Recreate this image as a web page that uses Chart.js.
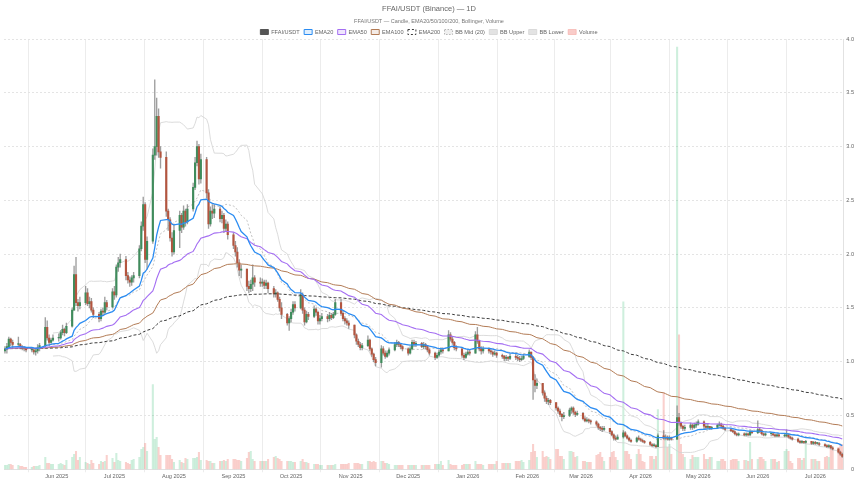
<!DOCTYPE html>
<html><head><meta charset="utf-8">
<script src="https://cdn.jsdelivr.net/npm/chart.js@4.4.1/dist/chart.umd.min.js"></script>
<style>html,body{margin:0;padding:0;background:#fff;}canvas{display:block;}</style>
</head><body>
<canvas id="c" width="860" height="484"></canvas>
<script>
// ---- DATA: FFAI/USDT daily candles, trading days (Mon–Fri) from 2025-05-05 to 2026-07-15 ----
const firstDay = '2025-05-05';
const lastDay = '2026-07-15';
const firstOpen = 1.10;
const closes = [
1.12,1.14,1.21,1.18,1.16, 1.16,1.14,1.13,1.12,1.11, 1.11,1.09,1.10,1.13,1.15, 1.32,1.22,1.18,1.20,1.22,
1.22,1.27,1.30,1.27,1.33, 1.48,1.81,1.55,1.52,1.55, 1.64,1.54,1.56,1.48,1.44, 1.40,1.47,1.46,1.55,1.51,
1.65,1.62,1.88,1.92,1.95, 1.80,1.76,1.74,1.78,1.80, 2.05,2.26,2.46,1.95,2.12, 2.92,3.00,3.28,2.95,2.90,
2.40,2.32,2.15,2.02,2.22, 2.36,2.25,2.40,2.30,2.42, 2.62,2.85,3.00,2.70,2.88, 2.57,2.28,2.40,2.38,2.42,
2.33,2.36,2.24,2.28,2.18, 2.08,2.02,1.92,1.85,1.86, 1.70,1.68,1.72,1.78,1.74, 1.73,1.74,1.71,1.73,1.68,
1.63,1.64,1.58,1.50,1.44, 1.36,1.40,1.46,1.53,1.50, 1.62,1.48,1.37,1.44,1.42, 1.49,1.46,1.38,1.40,1.42,
1.40,1.43,1.41,1.44,1.55, 1.45,1.40,1.38,1.36,1.34, 1.25,1.19,1.16,1.13,1.15, 1.20,1.12,1.07,1.02,0.99,
1.12,1.08,1.05,1.08,1.11, 1.16,1.18,1.16,1.14,1.12, 1.08,1.12,1.18,1.16,1.17, 1.14,1.16,1.14,1.11,1.08,
1.04,1.06,1.09,1.11,1.10, 1.25,1.21,1.18,1.13,1.12, 1.06,1.04,1.07,1.09,1.08, 1.25,1.19,1.12,1.10,1.12,
1.10,1.09,1.07,1.08,1.06, 1.05,1.03,1.04,1.03,1.05, 1.04,1.03,1.02,1.03,1.05, 1.09,1.04,0.83,0.78,0.80,
0.71,0.66,0.63,0.64,0.62, 0.57,0.54,0.51,0.49,0.50, 0.55,0.57,0.53,0.51,0.52, 0.47,0.45,0.46,0.45,0.44,
0.42,0.39,0.38,0.37,0.38, 0.35,0.32,0.29,0.28,0.30, 0.34,0.31,0.29,0.27,0.26, 0.29,0.28,0.27,0.26,0.25,
0.23,0.22,0.22,0.21,0.31, 0.29,0.30,0.28,0.29,0.28, 0.48,0.43,0.40,0.38,0.39, 0.41,0.39,0.41,0.42,0.44,
0.40,0.39,0.40,0.38,0.39, 0.41,0.42,0.40,0.38,0.37, 0.36,0.35,0.33,0.32,0.33, 0.32,0.33,0.32,0.35,0.34,
0.37,0.36,0.33,0.32,0.33, 0.33,0.32,0.31,0.32,0.31, 0.31,0.32,0.30,0.29,0.28, 0.26,0.25,0.26,0.25,0.26,
0.24,0.25,0.24,0.24,0.23, 0.22,0.21,0.22,0.20,0.19, 0.16,0.14,0.12
];
const highs = [
1.14,1.17,1.23,1.22,1.20, 1.23,1.17,1.15,1.14,1.13, 1.12,1.12,1.12,1.16,1.17, 1.41,1.38,1.25,1.22,1.25,
1.26,1.29,1.34,1.31,1.36, 1.50,1.89,1.97,1.58,1.60, 1.70,1.68,1.60,1.59,1.50, 1.46,1.49,1.50,1.60,1.57,
1.68,1.70,1.90,1.97,2.00, 1.98,1.83,1.79,1.80,1.83, 2.08,2.30,2.53,2.48,2.16, 2.98,3.62,3.45,3.35,3.00,
2.95,2.42,2.34,2.20,2.28, 2.40,2.38,2.45,2.42,2.46, 2.66,2.90,3.05,3.02,2.93, 2.90,2.60,2.44,2.46,2.46,
2.44,2.40,2.38,2.32,2.30, 2.20,2.12,2.06,1.95,1.90, 1.84,1.75,1.76,1.90,1.80, 1.78,1.77,1.76,1.76,1.74,
1.70,1.67,1.65,1.60,1.55, 1.45,1.42,1.49,1.56,1.56, 1.67,1.64,1.50,1.47,1.46, 1.52,1.50,1.47,1.43,1.45,
1.44,1.46,1.45,1.46,1.58, 1.58,1.47,1.42,1.40,1.38, 1.32,1.26,1.21,1.18,1.17, 1.24,1.21,1.13,1.08,1.04,
1.15,1.14,1.10,1.10,1.13, 1.18,1.20,1.19,1.17,1.15, 1.13,1.14,1.20,1.20,1.19, 1.18,1.18,1.17,1.15,1.12,
1.09,1.08,1.11,1.13,1.13, 1.29,1.27,1.23,1.19,1.15, 1.12,1.08,1.09,1.11,1.11, 1.28,1.32,1.20,1.14,1.14,
1.13,1.12,1.10,1.10,1.09, 1.07,1.06,1.06,1.05,1.07, 1.08,1.06,1.05,1.05,1.07, 1.11,1.09,1.05,0.88,0.84,
0.80,0.73,0.68,0.66,0.65, 0.62,0.58,0.56,0.52,0.53, 0.57,0.58,0.58,0.54,0.54, 0.53,0.49,0.48,0.47,0.46,
0.45,0.43,0.40,0.40,0.40, 0.38,0.36,0.33,0.31,0.32, 0.36,0.35,0.32,0.30,0.28, 0.30,0.31,0.29,0.28,0.27,
0.26,0.24,0.24,0.23,0.33, 0.36,0.32,0.31,0.31,0.30, 0.59,0.52,0.44,0.41,0.41, 0.43,0.42,0.43,0.44,0.46,
0.45,0.42,0.42,0.40,0.40, 0.42,0.44,0.43,0.41,0.39, 0.38,0.37,0.36,0.34,0.34, 0.34,0.34,0.34,0.36,0.36,
0.45,0.39,0.37,0.34,0.34, 0.34,0.34,0.33,0.33,0.33, 0.33,0.37,0.33,0.31,0.30, 0.29,0.27,0.27,0.26,0.27,
0.26,0.26,0.26,0.25,0.25, 0.24,0.23,0.23,0.22,0.21, 0.19,0.17,0.15
];
const lows = [
1.08,1.08,1.12,1.15,1.13, 1.15,1.12,1.11,1.10,1.09, 1.09,1.07,1.06,1.08,1.10, 1.14,1.20,1.15,1.17,1.19,
1.19,1.21,1.25,1.24,1.26, 1.32,1.56,1.52,1.47,1.49, 1.53,1.52,1.50,1.46,1.41, 1.37,1.38,1.43,1.45,1.48,
1.50,1.58,1.60,1.84,1.88, 1.76,1.73,1.70,1.71,1.74, 1.78,2.03,2.22,1.92,1.86, 2.10,2.88,2.92,2.90,2.80,
2.35,2.22,2.12,1.98,2.00, 2.06,2.20,2.23,2.26,2.28, 2.40,2.60,2.82,2.65,2.66, 2.52,2.24,2.26,2.33,2.34,
2.30,2.29,2.20,2.21,2.14, 2.05,1.98,1.88,1.80,1.78, 1.66,1.64,1.65,1.66,1.70, 1.70,1.70,1.68,1.68,1.64,
1.60,1.60,1.56,1.47,1.40, 1.34,1.29,1.37,1.44,1.47, 1.49,1.45,1.34,1.36,1.39, 1.41,1.43,1.35,1.35,1.38,
1.37,1.38,1.39,1.40,1.43, 1.43,1.38,1.35,1.34,1.31, 1.22,1.16,1.14,1.11,1.11, 1.14,1.10,1.05,1.00,0.96,
0.95,1.06,1.03,1.04,1.06, 1.10,1.14,1.14,1.12,1.10, 1.06,1.07,1.11,1.14,1.14, 1.13,1.12,1.12,1.09,1.06,
1.02,1.03,1.05,1.07,1.08, 1.10,1.19,1.16,1.11,1.10, 1.04,1.02,1.03,1.06,1.06, 1.08,1.17,1.10,1.07,1.08,
1.08,1.07,1.05,1.06,1.04, 1.03,1.01,1.01,1.01,1.02, 1.02,1.01,1.00,1.01,1.02, 1.04,1.02,0.65,0.72,0.75,
0.69,0.63,0.61,0.60,0.60, 0.55,0.52,0.49,0.45,0.47, 0.49,0.52,0.51,0.49,0.50, 0.46,0.44,0.44,0.43,0.42,
0.40,0.37,0.36,0.35,0.36, 0.33,0.31,0.27,0.27,0.28, 0.29,0.30,0.28,0.26,0.25, 0.25,0.27,0.26,0.25,0.24,
0.22,0.21,0.21,0.20,0.21, 0.28,0.28,0.27,0.27,0.27, 0.28,0.41,0.38,0.36,0.36, 0.37,0.37,0.38,0.39,0.41,
0.37,0.37,0.38,0.37,0.37, 0.38,0.40,0.38,0.37,0.36, 0.35,0.34,0.32,0.31,0.31, 0.31,0.31,0.31,0.31,0.33,
0.33,0.34,0.32,0.31,0.31, 0.31,0.31,0.30,0.30,0.30, 0.30,0.30,0.29,0.28,0.27, 0.25,0.24,0.24,0.24,0.24,
0.23,0.23,0.23,0.23,0.22, 0.21,0.20,0.20,0.19,0.18, 0.15,0.13,0.11
];
// volume, in 100k FFAI
const volumes = [
4,4,5,5,4, 4,3,3,2,2, 2,3,3,3,4, 12,6,6,5,5,
5,6,5,4,9, 12,15,18,9,12, 7,6,5,9,6, 5,8,7,8,14,
11,7,16,9,8, 7,6,5,9,10, 12,20,22,26,18, 85,30,32,22,14,
14,14,14,10,7, 9,7,6,11,10, 11,11,12,17,9, 9,8,8,6,6,
8,8,9,8,10, 10,10,9,9,8, 11,17,18,10,8, 8,8,8,8,10,
12,13,11,10,8, 8,8,8,7,7, 8,10,7,7,6, 5,5,5,4,4,
4,4,4,4,5, 5,5,5,5,6, 6,6,6,5,5, 8,8,7,8,7,
8,8,6,6,5, 4,4,4,4,4, 4,4,4,4,4, 4,4,4,4,4,
5,5,5,8,4, 9,5,4,4,4, 4,5,5,5,5, 8,5,5,5,4,
5,5,5,5,8, 6,6,6,6,6, 8,8,8,9,7, 9,17,25,18,12,
18,12,13,12,10, 20,20,13,13,10, 18,18,17,12,13, 8,8,7,7,7,
14,15,17,12,8, 12,17,18,12,9, 168,18,18,15,10, 15,20,15,8,7,
13,13,10,13,60, 77,30,22,25,15, 424,135,25,15,12, 10,14,12,12,12,
15,10,10,12,12, 8,8,10,10,8, 9,10,10,10,8, 9,9,8,27,10,
10,12,12,10,8, 10,10,10,7,8, 18,20,18,8,6, 11,11,9,11,25,
10,10,10,8,8, 12,13,12,22,20, 22,25,25
];
const tickLabels = ['Jun 2025','Jul 2025','Aug 2025','Sep 2025','Oct 2025','Nov 2025','Dec 2025','Jan 2026','Feb 2026','Mar 2026','Apr 2026','May 2026','Jun 2026','Jul 2026'];
const tickDates  = ['2025-06-01','2025-07-01','2025-08-01','2025-09-01','2025-10-01','2025-11-01','2025-12-01','2026-01-01','2026-02-01','2026-03-01','2026-04-01','2026-05-01','2026-06-01','2026-07-01'];

// ---- calendar axis (every day), candles on weekdays ----
const DAY = 86400000;
const t0 = Date.parse(firstDay + 'T00:00:00Z'), t1 = Date.parse(lastDay + 'T00:00:00Z');
const calDates = [], tradeIdx = [];
for (let t = t0, i = 0; t <= t1; t += DAY, i++) {
  calDates.push(new Date(t).toISOString().slice(0, 10));
  const wd = new Date(t).getUTCDay();
  if (wd !== 0 && wd !== 6) tradeIdx.push(i);
}
const N = closes.length;
if (tradeIdx.length !== N || highs.length !== N || lows.length !== N || volumes.length !== N)
  console.error('length mismatch', tradeIdx.length, N, highs.length, lows.length, volumes.length);
const spread = (arr) => { const out = new Array(calDates.length).fill(null); tradeIdx.forEach((ci, k) => { if (k < arr.length) out[ci] = arr[k]; }); return out; };

const opens = closes.map((c, i) => i === 0 ? firstOpen : closes[i - 1]);
const up = closes.map((c, i) => c >= opens[i]);

function ema(src, n) { const k = 2 / (n + 1); const out = []; let e = src[0]; for (let i = 0; i < src.length; i++) { e = i === 0 ? src[0] : src[i] * k + e * (1 - k); out.push(e); } return out; }
function boll(src, n, m) {
  const mid = [], upp = [], low = [];
  for (let i = 0; i < src.length; i++) {
    if (i < n - 1) { mid.push(null); upp.push(null); low.push(null); continue; }
    let s = 0; for (let j = i - n + 1; j <= i; j++) s += src[j];
    const avg = s / n; let v = 0; for (let j = i - n + 1; j <= i; j++) v += (src[j] - avg) ** 2;
    const sd = Math.sqrt(v / n);
    mid.push(avg); upp.push(avg + m * sd); low.push(avg - m * sd);
  }
  return { mid, upp, low };
}
const bb = boll(closes, 20, 2);

const tickIdx = tickDates.map(d => calDates.indexOf(d));
const labelAt = {}; tickIdx.forEach((v, i) => labelAt[v] = tickLabels[i]);

// ---- styles ----
const C = {
  up: '#3f8c5c', down: '#b3553f', wick: 'rgba(125,125,125,0.75)',
  volUp: 'rgba(60,190,120,0.25)', volDown: 'rgba(240,100,90,0.3)',
  e20: '#2b8cf2', e50: '#a46ef2', e100: '#b27b55', e200: '#3a3a3a',
  bbMid: '#a8a8a8', bbBand: '#d2d2d2'
};
Chart.defaults.font.family = "'Liberation Sans', Arial, Helvetica, sans-serif";
Chart.defaults.color = '#666';

const legendItems = [
  { text: 'FFAI/USDT', fill: '#555', stroke: '#555' },
  { text: 'EMA20', fill: 'rgba(43,140,242,0.15)', stroke: C.e20 },
  { text: 'EMA50', fill: 'rgba(164,110,242,0.18)', stroke: C.e50 },
  { text: 'EMA100', fill: 'rgba(178,123,85,0.15)', stroke: C.e100 },
  { text: 'EMA200', fill: 'rgba(255,255,255,0)', stroke: C.e200, dash: [2, 2] },
  { text: 'BB Mid (20)', fill: 'rgba(210,210,210,0.35)', stroke: '#b5b5b5', dash: [1.5, 1.5] },
  { text: 'BB Upper', fill: '#e3e3e3', stroke: '#dadada' },
  { text: 'BB Lower', fill: '#e3e3e3', stroke: '#dadada' },
  { text: 'Volume', fill: 'rgba(245,170,165,0.6)', stroke: 'rgba(245,170,165,0.6)' }
];

const legendHeight = {
  id: 'legendHeight',
  beforeLayout(chart) {
    const lg = chart.legend;
    if (lg && !lg.__patched) { const f = lg.fit.bind(lg); lg.fit = function () { f(); this.height = 14.2; }; lg.__patched = true; }
  }
};

const line = (label, data, color, width, dash, order) => ({
  type: 'line', label, data: spread(data), borderColor: color, borderWidth: width, borderDash: dash || [],
  pointRadius: 0, pointHoverRadius: 0, tension: 0, fill: false, spanGaps: true, yAxisID: 'y', order
});

new Chart(document.getElementById('c'), {
  type: 'bar',
  data: {
    labels: calDates,
    datasets: [
      line('EMA20', ema(closes, 20), C.e20, 1.3, null, 0),
      line('EMA50', ema(closes, 50), C.e50, 1.1, null, 0),
      line('EMA100', ema(closes, 100), C.e100, 1.0, null, 0),
      line('EMA200', ema(closes, 200), C.e200, 1.0, [3, 2], 0),
      line('BB Mid (20)', bb.mid, C.bbMid, 0.7, [2, 2], 3),
      line('BB Upper', bb.upp, C.bbBand, 0.8, null, 3),
      line('BB Lower', bb.low, C.bbBand, 0.8, null, 3),
      { label: 'FFAI/USDT', data: spread(closes.map((c, i) => [opens[i], c])), backgroundColor: spread(up.map(u => u ? C.up : C.down)),
        barThickness: 1.5, grouped: false, minBarLength: 0.8, borderWidth: 0, yAxisID: 'y', order: 1 },
      { label: 'wick', data: spread(lows.map((l, i) => [Math.min(l, opens[i], closes[i]), Math.max(highs[i], opens[i], closes[i])])), backgroundColor: C.wick,
        barThickness: 0.7, grouped: false, borderWidth: 0, yAxisID: 'y', order: 2 },
      { label: 'Volume', data: spread(volumes), backgroundColor: spread(up.map(u => u ? C.volUp : C.volDown)),
        barThickness: 1.4, grouped: false, borderWidth: 0, yAxisID: 'yv', order: 5 }
    ]
  },
  options: {
    responsive: false, animation: false, devicePixelRatio: 1,
    layout: { padding: { left: 4, right: 6, top: 0, bottom: 3 } },
    plugins: {
      title: { display: true, text: 'FFAI/USDT (Binance) — 1D', color: '#666', font: { size: 7.5, weight: 'normal' }, padding: { top: 4.5, bottom: 2 } },
      subtitle: { display: true, text: 'FFAI/USDT — Candle, EMA20/50/100/200, Bollinger, Volume', color: '#777', font: { size: 5.5 }, padding: { top: 2.7, bottom: 0 } },
      legend: {
        display: true, position: 'top',
        labels: {
          boxWidth: 8, boxHeight: 5, padding: 4.4, color: '#666', font: { size: 5.6 },
          generateLabels: () => legendItems.map((it, i) => ({
            text: it.text, fillStyle: it.fill, strokeStyle: it.stroke, lineWidth: 1,
            lineDash: it.dash || [], hidden: false, datasetIndex: i, fontColor: '#666'
          }))
        },
        onClick: () => {}
      },
      tooltip: { enabled: false }
    },
    scales: {
      x: {
        type: 'category', offset: true,
        afterBuildTicks: (axis) => { axis.ticks = tickIdx.map(v => ({ value: v })); },
        ticks: { autoSkip: false, maxRotation: 0, minRotation: 0, padding: 1, color: '#666', font: { size: 5.6 },
          callback: (v) => labelAt[v] || '' },
        grid: { offset: true, color: '#ececec', lineWidth: 1, tickLength: 3 },
        border: { display: true, color: '#e2e2e2' }
      },
      y: {
        position: 'right', min: 0, max: 4,
        ticks: { stepSize: 0.5, color: '#666', font: { size: 5.6 }, padding: 1.5, crossAlign: 'far' },
        grid: { color: '#e4e4e4', drawTicks: false },
        border: { display: true, color: '#e2e2e2', dash: [2, 2] }
      },
      yv: { display: false, min: 0, max: 432 }
    }
  },
  plugins: [legendHeight]
});
</script>
</body></html>
